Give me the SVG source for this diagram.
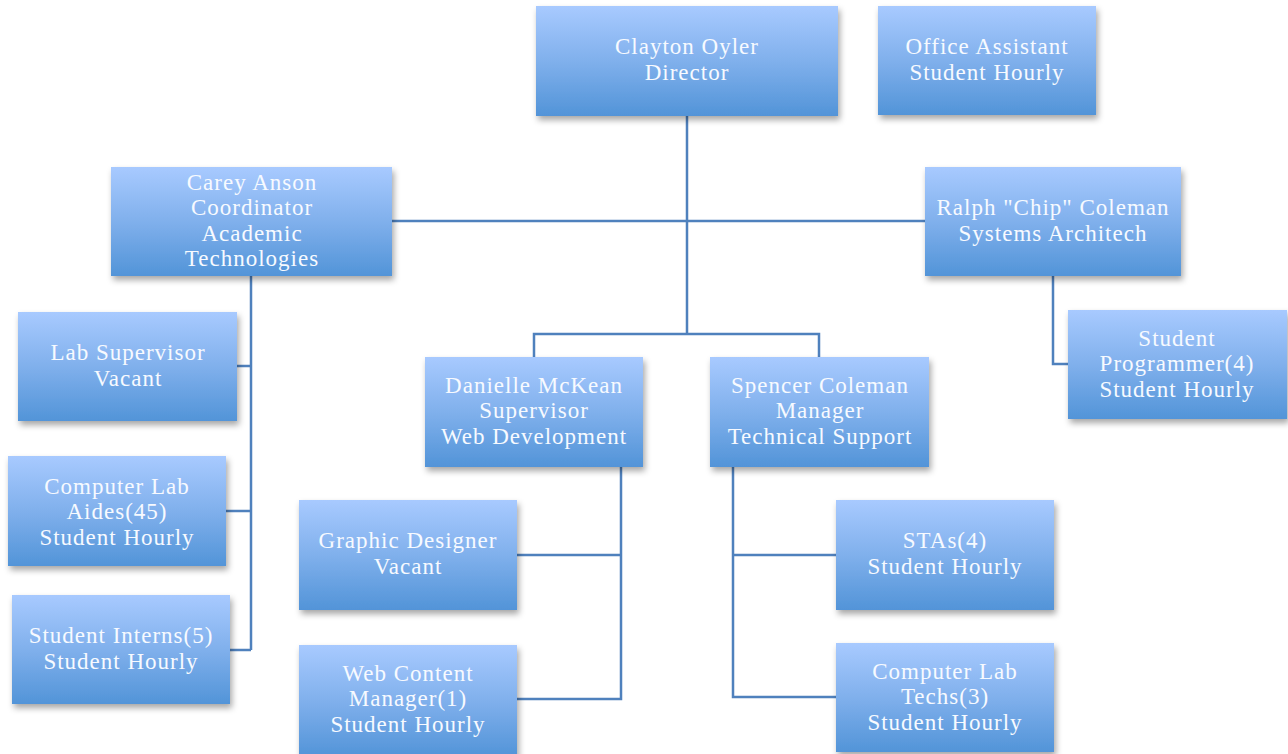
<svg xmlns="http://www.w3.org/2000/svg" width="1288" height="754" viewBox="0 0 1288 754">
<defs>
<linearGradient id="g" x1="0" y1="0" x2="0" y2="1">
<stop offset="0" stop-color="#a8caff"/>
<stop offset="0.5" stop-color="#80b0ec"/>
<stop offset="1" stop-color="#5294d8"/>
</linearGradient>
<filter id="sh" x="-10%" y="-10%" width="125%" height="130%">
<feDropShadow dx="2" dy="4" stdDeviation="3" flood-color="#000" flood-opacity="0.35"/>
</filter>
<style>
.box{fill:url(#g);filter:url(#sh);}
.t{font-family:"Liberation Serif","Times New Roman",serif;font-size:23px;letter-spacing:1px;fill:#f7faff;text-anchor:middle;}
.c{fill:none;stroke:#4f81bd;stroke-width:2.5;}
</style>
</defs>
<rect width="1288" height="754" fill="#fff"/>
<g id="connectors">
<path class="c" d="M687 116V334M392 221H925M534 357V334H819V357"/>
<path class="c" d="M251 276V650M237 366H251M226 511H251M230 650H251"/>
<path class="c" d="M1053 276V364H1068"/>
<path class="c" d="M621 467V699H517M517 555H621"/>
<path class="c" d="M733 467V697H836M733 555H836"/>
</g>
<g id="clayton"><rect class="box" x="536" y="6" width="302" height="110"/><text class="t"><tspan x="687" y="54">Clayton Oyler</tspan><tspan x="687" y="79.5">Director</tspan></text></g>
<g id="office"><rect class="box" x="878" y="6" width="218" height="109"/><text class="t"><tspan x="987" y="54">Office Assistant</tspan><tspan x="987" y="79.5">Student Hourly</tspan></text></g>
<g id="carey"><rect class="box" x="111" y="167" width="281" height="109"/><text class="t"><tspan x="252" y="189.5">Carey Anson</tspan><tspan x="252" y="215">Coordinator</tspan><tspan x="252" y="240.5">Academic</tspan><tspan x="252" y="266">Technologies</tspan></text></g>
<g id="ralph"><rect class="box" x="925" y="167" width="256" height="109"/><text class="t"><tspan x="1053" y="215">Ralph "Chip" Coleman</tspan><tspan x="1053" y="240.5">Systems Architech</tspan></text></g>
<g id="labsup"><rect class="box" x="18" y="312" width="219" height="109"/><text class="t"><tspan x="128" y="360">Lab Supervisor</tspan><tspan x="128" y="385.5">Vacant</tspan></text></g>
<g id="aides"><rect class="box" x="8" y="456" width="218" height="110"/><text class="t"><tspan x="117" y="493.5">Computer Lab</tspan><tspan x="117" y="519">Aides(45)</tspan><tspan x="117" y="544.5">Student Hourly</tspan></text></g>
<g id="interns"><rect class="box" x="12" y="595" width="218" height="109"/><text class="t"><tspan x="121" y="643">Student Interns(5)</tspan><tspan x="121" y="668.5">Student Hourly</tspan></text></g>
<g id="danielle"><rect class="box" x="425" y="357" width="218" height="110"/><text class="t"><tspan x="534" y="392.5">Danielle McKean</tspan><tspan x="534" y="418">Supervisor</tspan><tspan x="534" y="443.5">Web Development</tspan></text></g>
<g id="spencer"><rect class="box" x="710" y="357" width="219" height="110"/><text class="t"><tspan x="820" y="392.5">Spencer Coleman</tspan><tspan x="820" y="418">Manager</tspan><tspan x="820" y="443.5">Technical Support</tspan></text></g>
<g id="programmer"><rect class="box" x="1068" y="310" width="219" height="109"/><text class="t"><tspan x="1177" y="345.5">Student</tspan><tspan x="1177" y="371">Programmer(4)</tspan><tspan x="1177" y="396.5">Student Hourly</tspan></text></g>
<g id="graphic"><rect class="box" x="299" y="500" width="218" height="110"/><text class="t"><tspan x="408" y="548">Graphic Designer</tspan><tspan x="408" y="573.5">Vacant</tspan></text></g>
<g id="webcontent"><rect class="box" x="299" y="645" width="218" height="112"/><text class="t"><tspan x="408" y="680.5">Web Content</tspan><tspan x="408" y="706">Manager(1)</tspan><tspan x="408" y="731.5">Student Hourly</tspan></text></g>
<g id="stas"><rect class="box" x="836" y="500" width="218" height="110"/><text class="t"><tspan x="945" y="548">STAs(4)</tspan><tspan x="945" y="573.5">Student Hourly</tspan></text></g>
<g id="techs"><rect class="box" x="836" y="643" width="218" height="109"/><text class="t"><tspan x="945" y="678.5">Computer Lab</tspan><tspan x="945" y="704">Techs(3)</tspan><tspan x="945" y="729.5">Student Hourly</tspan></text></g>
</svg>
